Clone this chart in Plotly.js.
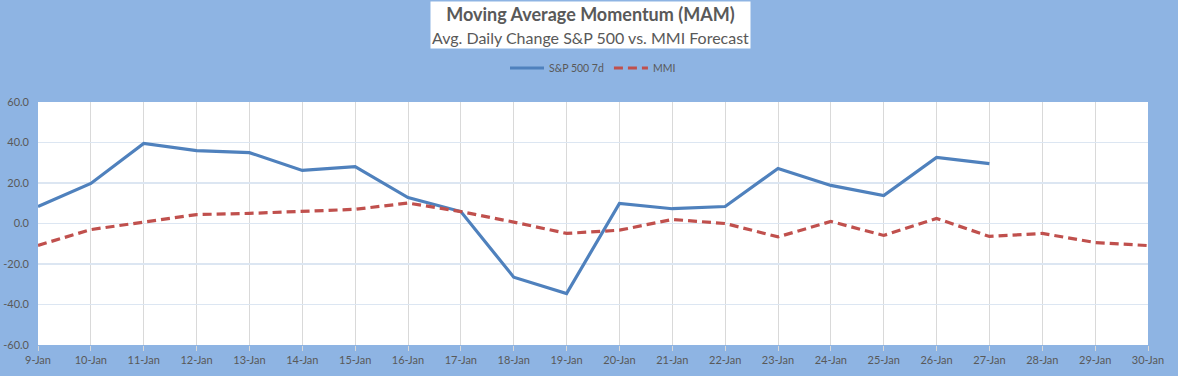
<!DOCTYPE html>
<html><head><meta charset="utf-8">
<script src="https://cdn.plot.ly/plotly-3.0.1.min.js"></script>
<style>html,body{margin:0;padding:0;background:#8EB4E3;}#chart{width:1178px;height:376px;}</style>
</head><body><div id="chart"></div>
<script>
const dates = ["9-Jan","10-Jan","11-Jan","12-Jan","13-Jan","14-Jan","15-Jan","16-Jan","17-Jan","18-Jan","19-Jan","20-Jan","21-Jan","22-Jan","23-Jan","24-Jan","25-Jan","26-Jan","27-Jan","28-Jan","29-Jan","30-Jan"];
const sp500_7d = [8.4,19.8,39.5,36.0,35.0,26.2,28.1,12.8,5.9,-26.5,-34.6,9.9,7.3,8.4,27.2,18.8,13.8,32.6,29.6,null,null,null];
const mmi = [-10.8,-3.0,0.7,4.4,5.0,6.0,7.0,10.1,5.9,0.7,-4.9,-3.3,2.0,0.0,-6.6,1.0,-5.9,2.5,-6.4,-4.9,-9.4,-10.9];
const yTicks = [-60,-40,-20,0,20,40,60];

const font = "Lato, 'Open Sans', sans-serif";
const traces = [
  {x: dates, y: sp500_7d, name: "S&P 500 7d", type: "scatter", mode: "lines",
   line: {color: "#4F81BD", width: 3.2}, connectgaps: false},
  {x: dates, y: mmi, name: "MMI", type: "scatter", mode: "lines",
   line: {color: "#C0504D", width: 3.2, dash: "9px,5px"}}
];
const layout = {
  width: 1178, height: 376,
  paper_bgcolor: "#8EB4E3", plot_bgcolor: "#FFFFFF",
  margin: {l: 38, r: 30, t: 102, b: 31},
  font: {family: font, color: "#595959", size: 11},
  showlegend: true,
  legend: {orientation: "h", x: 0.5, xanchor: "center", y: 1.14, yanchor: "middle",
           bgcolor: "rgba(0,0,0,0)", font: {size: 10.5, color: "#595959"}, itemwidth: 34, tracegroupgap: 0},
  xaxis: {type: "category", range: [0, 21], showgrid: true, gridcolor: "#D9D9D9", gridwidth: 1,
          ticks: "outside", ticklen: 5, tickcolor: "#D9D9D9", showline: false, zeroline: false,
          tickfont: {size: 11, color: "#595959"}, fixedrange: true},
  yaxis: {range: [-60, 60], tickvals: yTicks, ticktext: yTicks.map(v => v.toFixed(1)),
          showgrid: true, gridcolor: "#DCE6F2", gridwidth: 1.5, zeroline: false, showline: false,
          ticks: "", ticklabelstandoff: 8, tickfont: {size: 11, color: "#595959"}, fixedrange: true},
  annotations: [{
    xref: "paper", yref: "paper", x: 0.498, y: 1.316, xanchor: "center", yanchor: "middle",
    text: "<b>Moving Average Momentum (MAM)</b><br><span style='font-size:16px'>Avg. Daily Change S&P 500 vs. MMI Forecast</span>",
    showarrow: false, bgcolor: "#FFFFFF", borderpad: 1,
    font: {family: font, size: 18, color: "#595959"}
  }]
};
Plotly.newPlot("chart", traces, layout, {displayModeBar: false, staticPlot: true});
</script></body></html>
